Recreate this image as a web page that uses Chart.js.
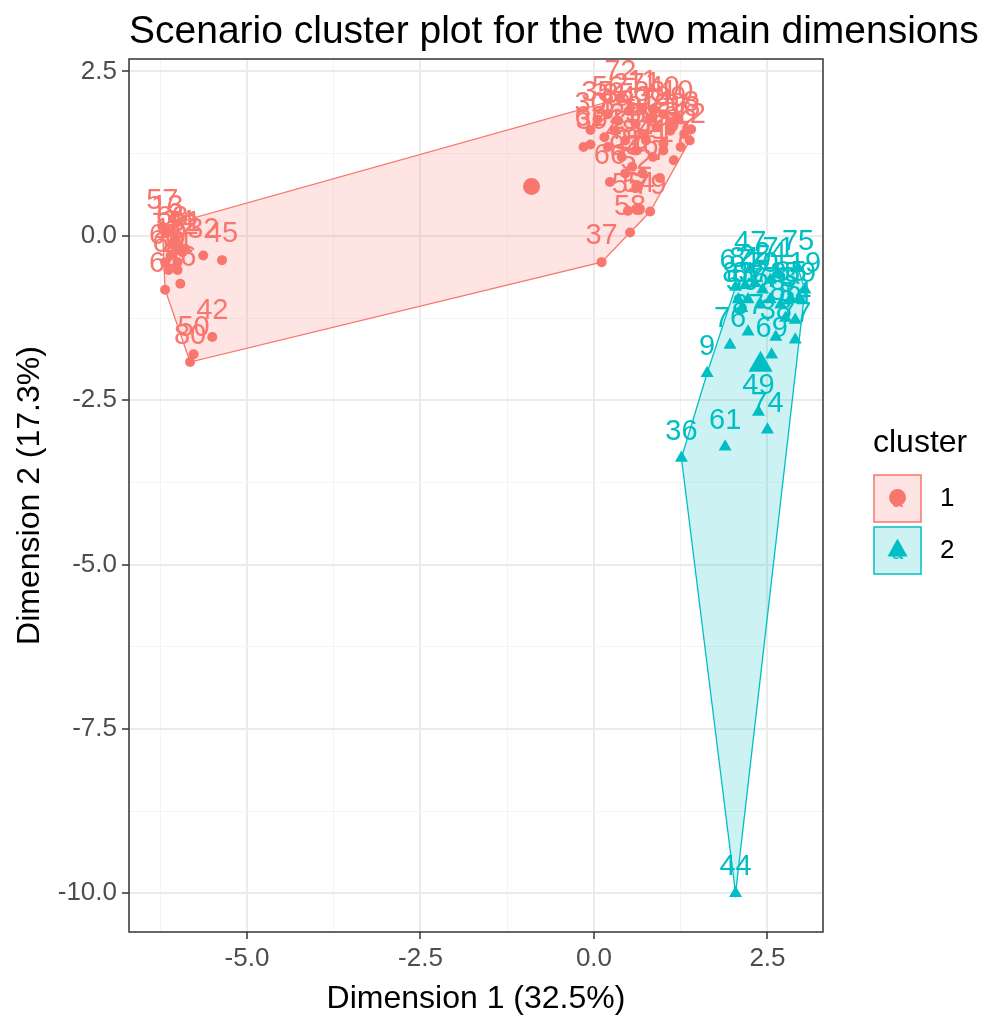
<!DOCTYPE html>
<html>
<head>
<meta charset="utf-8">
<title>Scenario cluster plot</title>
<script src="https://cdn.jsdelivr.net/npm/chart.js@4.4.1/dist/chart.umd.min.js"></script>
<style>
  body { margin: 0; background: #fff; }
</style>
</head>
<body>
<canvas id="myChart" width="997" height="1018"></canvas>
<script>
// cluster 1 (red circles)
const c1X = [-6.22, -6.15, -6.08, -6.03, -5.99, -5.93, -6.10, -6.18, -6.00, -5.89, -6.13, -6.00, -5.63, -5.36, -5.96, -6.18, -5.50, -5.77, -5.82,
  0.38, 0.05, -0.05, 0.20, 0.50, 0.70, 0.85, 1.00, 1.20, 1.40, 1.30, 1.10, 0.90, 0.60, 0.30, 0.15, 0.45, 0.75, 1.00, 1.38,
  1.00, 0.60, 0.85, 1.15, 0.40, -0.05, 0.55, 0.95, 0.23, 0.61, 0.70, 0.81, 0.52, 0.64, 0.49, 0.11, -0.15,
  0.35, 0.80, 1.10, 0.70, 0.20, 1.25, 0.45];
const c1Y = [0.14, 0.05, -0.12, -0.08, -0.18, -0.25, -0.30, -0.40, -0.40, -0.20, -0.52, -0.52, -0.30, -0.37, -0.73, -0.82, -1.54, -1.80, -1.92,
  2.09, 1.77, 1.61, 1.85, 1.90, 1.95, 1.92, 1.85, 1.80, 1.62, 1.55, 1.60, 1.65, 1.70, 1.60, 1.50, 1.45, 1.45, 1.40, 1.45,
  1.30, 1.30, 1.20, 1.15, 1.20, 1.39, 1.05, 0.88, 0.82, 0.75, 0.95, 0.37, 0.05, 0.40, 0.38, -0.40, 1.35,
  1.75, 1.78, 1.70, 1.55, 1.35, 1.35, 0.95];
const c1Labels = ['57', '13', '68', '2', '34', '22', '16', '63', '5', '31', '60', '21', '32', '45', '26', '64', '42', '50', '80',
  '72', '35', '30', '56', '27', '11', '1', '40', '10', '8', '18', '20', '14', '43', '39', '4', '23', '51', '29', '12',
  '15', '33', '41', '17', '48', '62', '28', '7', '66', '52', '46', '79', '58', '54', '55', '37', '3',
  '85', '88', '89', '90', '91', '92', '93'];

// cluster 2 (teal triangles)
const c2X = [1.26, 1.63, 1.89, 1.96, 2.62, 2.56, 2.90, 2.37, 2.50, 2.04, 2.13, 2.25, 2.04, 2.18, 2.32, 2.43, 2.54, 2.66,
  2.83, 2.94, 3.04, 2.97, 2.69, 2.54, 2.40, 2.22, 2.08, 2.90, 2.76, 2.22];
const c2Y = [-3.38, -2.09, -3.21, -1.66, -1.54, -1.81, -1.58, -2.68, -2.95, -10.0, -1.10, -0.50, -0.78, -0.75, -0.72, -0.82, -0.67, -0.59,
  -0.96, -0.49, -0.82, -0.97, -1.05, -0.97, -1.05, -0.97, -0.97, -1.28, -1.25, -1.46];
const c2Labels = ['36', '9', '61', '76', '38', '69', '77', '49', '74', '44', '53', '47', '67', '81', '25', '70', '24', '71',
  '65', '75', '19', '59', '73', '78', '6', '82', '83', '84', '86', '87'];

// cluster centres
const centerX = [-0.90, 2.40];
const centerY = [0.75, -1.96];

// axes
const xMajor = [-5, -2.5, 0, 2.5];
const xMinor = [-6.25, -3.75, -1.25, 1.25];
const yMajor = [2.5, 0, -2.5, -5, -7.5, -10];
const yMinor = [1.25, -1.25, -3.75, -6.25, -8.75];

const RED = '#F8766D';
const TEAL = '#00BFC4';
const FONT = "'Liberation Sans', Arial, sans-serif";

const toPts = (xs, ys) => xs.map((x, i) => ({x: x, y: ys[i]}));

function hull(pts) {
  const p = pts.slice().sort((a, b) => a.x - b.x || a.y - b.y);
  const cross = (o, a, b) => (a.x - o.x) * (b.y - o.y) - (a.y - o.y) * (b.x - o.x);
  const lower = [], upper = [];
  for (const q of p) {
    while (lower.length >= 2 && cross(lower[lower.length - 2], lower[lower.length - 1], q) <= 0) lower.pop();
    lower.push(q);
  }
  for (const q of p.reverse()) {
    while (upper.length >= 2 && cross(upper[upper.length - 2], upper[upper.length - 1], q) <= 0) upper.pop();
    upper.push(q);
  }
  upper.pop();
  lower.pop();
  return lower.concat(upper);
}

const pts1 = toPts(c1X, c1Y);
const pts2 = toPts(c2X, c2Y);
const hulls = [
  {pts: hull(pts1.concat([{x: centerX[0], y: centerY[0]}])), line: RED, fill: 'rgba(248,118,109,0.2)'},
  {pts: hull(pts2.concat([{x: centerX[1], y: centerY[1]}])), line: TEAL, fill: 'rgba(0,191,196,0.2)'}
];

// hull polygons under the points
const hullPlugin = {
  id: 'hulls',
  beforeDatasetsDraw(chart) {
    const {ctx, chartArea, scales} = chart;
    ctx.save();
    ctx.beginPath();
    ctx.rect(chartArea.left, chartArea.top, chartArea.right - chartArea.left, chartArea.bottom - chartArea.top);
    ctx.clip();
    hulls.forEach(h => {
      ctx.beginPath();
      h.pts.forEach((p, i) => {
        const px = scales.x.getPixelForValue(p.x);
        const py = scales.y.getPixelForValue(p.y);
        if (i === 0) ctx.moveTo(px, py); else ctx.lineTo(px, py);
      });
      ctx.closePath();
      ctx.fillStyle = h.fill;
      ctx.fill();
      ctx.strokeStyle = h.line;
      ctx.lineWidth = 1.3;
      ctx.stroke();
    });
    ctx.restore();
  }
};

// number labels above every point
const labelPlugin = {
  id: 'pointLabels',
  afterDatasetsDraw(chart) {
    const {ctx} = chart;
    ctx.save();
    ctx.font = '29px ' + FONT;
    ctx.textAlign = 'center';
    ctx.textBaseline = 'middle';
    [[0, c1Labels, RED], [1, c2Labels, TEAL]].forEach(([idx, labels, col]) => {
      ctx.fillStyle = col;
      chart.getDatasetMeta(idx).data.forEach((el, i) => {
        ctx.fillText(labels[i], el.x, el.y - 26);
      });
    });
    ctx.restore();
  }
};

// panel border, title and legend
const framePlugin = {
  id: 'frame',
  afterDraw(chart) {
    const {ctx, chartArea} = chart;
    ctx.save();
    ctx.strokeStyle = '#333333';
    ctx.lineWidth = 1.5;
    ctx.strokeRect(chartArea.left, chartArea.top, chartArea.right - chartArea.left, chartArea.bottom - chartArea.top);

    ctx.fillStyle = '#000';
    ctx.font = '39px ' + FONT;
    ctx.textAlign = 'left';
    ctx.textBaseline = 'middle';
    ctx.fillText('Scenario cluster plot for the two main dimensions', chartArea.left, 32);

    // legend
    ctx.font = '32px ' + FONT;
    ctx.fillText('cluster', 873, 443);
    const keys = [
      {y: 475, col: RED, fill: 'rgba(248,118,109,0.2)', shape: 'circle', text: '1'},
      {y: 527, col: TEAL, fill: 'rgba(0,191,196,0.2)', shape: 'triangle', text: '2'}
    ];
    keys.forEach(k => {
      ctx.fillStyle = k.fill;
      ctx.fillRect(874, k.y, 47, 47);
      ctx.strokeStyle = k.col;
      ctx.lineWidth = 1.5;
      ctx.strokeRect(874, k.y, 47, 47);
      const cx = 897.5, cy = k.y + 23.5;
      ctx.fillStyle = k.col;
      ctx.font = '20px ' + FONT;
      ctx.textAlign = 'center';
      ctx.fillText('a', cx, cy + 3);
      ctx.beginPath();
      if (k.shape === 'circle') {
        ctx.arc(cx, cy - 1, 8.5, 0, Math.PI * 2);
      } else {
        ctx.moveTo(cx, cy - 12);
        ctx.lineTo(cx + 10, cy + 6);
        ctx.lineTo(cx - 10, cy + 6);
        ctx.closePath();
      }
      ctx.fill();
      ctx.fillStyle = '#000';
      ctx.font = '26px ' + FONT;
      ctx.textAlign = 'left';
      ctx.fillText(k.text, 940, cy);
    });
    ctx.restore();
  }
};

function majorOnly(majors) {
  return function (value) {
    return majors.some(m => Math.abs(m - value) < 1e-9) ? value.toFixed(1) : '';
  };
}

function isMajor(majors, v) {
  return majors.some(m => Math.abs(m - v) < 1e-9);
}

const ctx = document.getElementById('myChart');

new Chart(ctx, {
  type: 'scatter',
  data: {
    datasets: [
      {label: '1', data: pts1, pointStyle: 'circle', pointRadius: 5, backgroundColor: RED, borderColor: RED, borderWidth: 0},
      {label: '2', data: pts2, pointStyle: 'triangle', pointRadius: 7.5, backgroundColor: TEAL, borderColor: TEAL, borderWidth: 0},
      {label: 'c1', data: [{x: centerX[0], y: centerY[0]}], pointStyle: 'circle', pointRadius: 8.5, backgroundColor: RED, borderWidth: 0},
      {label: 'c2', data: [{x: centerX[1], y: centerY[1]}], pointStyle: 'triangle', pointRadius: 14, backgroundColor: TEAL, borderWidth: 0}
    ]
  },
  options: {
    responsive: false,
    animation: false,
    events: [],
    layout: {padding: {top: 59, right: 174, bottom: 0, left: 0}},
    plugins: {
      legend: {display: false},
      tooltip: {enabled: false}
    },
    scales: {
      x: {
        type: 'linear',
        min: -6.70,
        max: 3.30,
        afterBuildTicks: s => { s.ticks = xMajor.concat(xMinor).sort((a, b) => a - b).map(v => ({value: v})); },
        afterFit: s => { s.height = 86; },
        ticks: {autoSkip: false, maxRotation: 0, padding: 4, color: '#4D4D4D', font: {family: FONT, size: 26}, callback: majorOnly(xMajor)},
        grid: {
          color: c => isMajor(xMajor, c.tick.value) ? '#EBEBEB' : '#F4F4F4',
          lineWidth: c => isMajor(xMajor, c.tick.value) ? 2 : 1,
          tickColor: c => isMajor(xMajor, c.tick.value) ? '#333333' : 'rgba(0,0,0,0)',
          tickLength: 7,
          tickWidth: 1.5
        },
        border: {display: false},
        title: {display: true, text: 'Dimension 1 (32.5%)', color: '#000', font: {family: FONT, size: 32}, padding: {top: 0, bottom: 0}}
      },
      y: {
        type: 'linear',
        min: -10.59,
        max: 2.69,
        afterBuildTicks: s => { s.ticks = yMajor.concat(yMinor).sort((a, b) => a - b).map(v => ({value: v})); },
        afterFit: s => { s.width = 129; },
        ticks: {autoSkip: false, padding: 5, color: '#4D4D4D', font: {family: FONT, size: 26}, callback: majorOnly(yMajor)},
        grid: {
          color: c => isMajor(yMajor, c.tick.value) ? '#EBEBEB' : '#F4F4F4',
          lineWidth: c => isMajor(yMajor, c.tick.value) ? 2 : 1,
          tickColor: c => isMajor(yMajor, c.tick.value) ? '#333333' : 'rgba(0,0,0,0)',
          tickLength: 7,
          tickWidth: 1.5
        },
        border: {display: false},
        title: {display: true, text: 'Dimension 2 (17.3%)', color: '#000', font: {family: FONT, size: 32}, padding: {top: 11, bottom: 0}}
      }
    }
  },
  plugins: [hullPlugin, labelPlugin, framePlugin]
});
</script>
</body>
</html>
